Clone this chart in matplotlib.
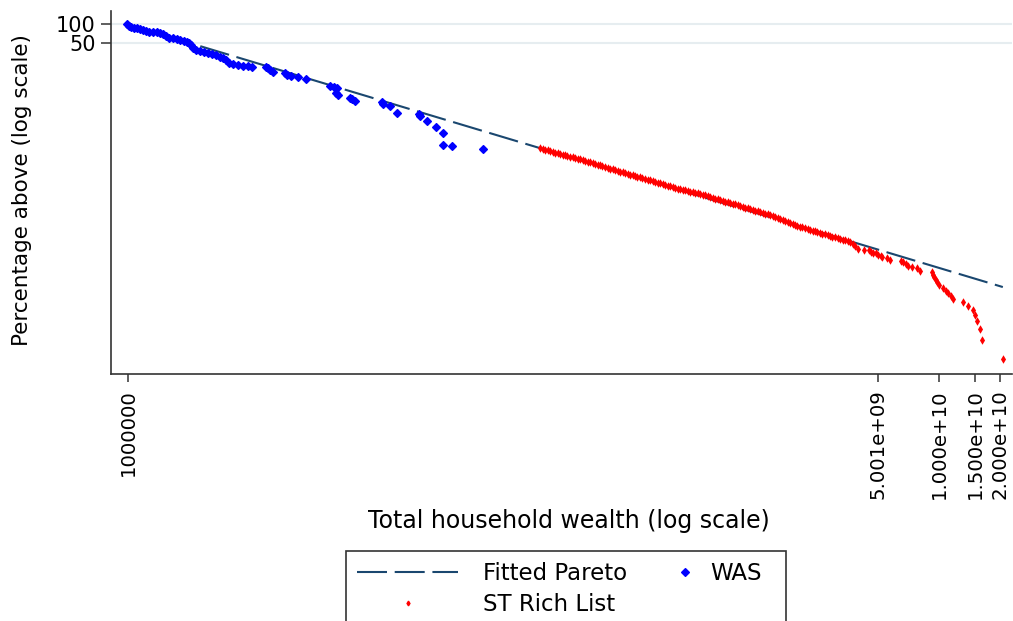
import matplotlib
matplotlib.use("Agg")
import matplotlib.pyplot as plt
from matplotlib.lines import Line2D
from matplotlib.patches import Rectangle
from matplotlib.ticker import NullLocator, FixedLocator, FixedFormatter

plt.rcParams['font.family'] = ['DejaVu Sans']

# ---------------- data ----------------
was_wealth = [0.989e6, 1.011e6, 1.035e6, 1.071e6, 1.108e6, 1.146e6, 1.186e6, 1.227e6, 1.269e6, 1.328e6,
              1.390e6, 1.438e6, 1.488e6, 1.539e6, 1.593e6, 1.667e6, 1.744e6, 1.805e6, 1.889e6, 1.954e6,
              2.000e6, 2.045e6, 2.092e6, 2.164e6, 2.265e6, 2.370e6, 2.480e6, 2.596e6, 2.716e6, 2.842e6,
              2.940e6, 3.042e6, 3.148e6, 3.295e6, 3.487e6, 3.691e6, 3.906e6, 4.088e6, 4.791e6, 4.901e6,
              5.013e6, 5.188e6, 5.945e6, 6.081e6, 6.364e6, 6.891e6, 7.545e6, 9.91e6, 1.037e7, 1.073e7,
              1.061e7, 1.085e7, 1.244e7, 1.272e7, 1.316e7, 1.789e7, 1.809e7, 1.958e7, 2.121e7, 2.722e7,
              2.754e7, 2.981e7, 3.303e7, 3.575e7, 3.575e7, 3.960e7, 5.63e7]
was_pct = [100, 94.6, 91.2, 87.9, 86.3, 83.2, 81.7, 78.7, 75.9, 75.9,
           74.5, 73.1, 70.5, 65.5, 61.9, 60.8, 58.6, 56.5, 54.5, 52.5,
           50.6, 47.0, 42.1, 39.1, 37.7, 36.3, 35.6, 33.7, 32.5, 30.2,
           29.1, 27.0, 24.2, 23.3, 22.9, 21.7, 21.3, 20.9, 20.9, 20.1,
           18.7, 17.4, 16.7, 15.6, 15.0, 14.5, 13.4, 10.4, 10.0, 9.64,
           8.02, 7.45, 6.67, 6.31, 5.97, 5.75, 5.35, 4.97, 3.84, 3.70,
           3.44, 2.86, 2.29, 1.84, 1.18, 1.14, 1.02]

st_wealth = [1.076e8, 1.138e8, 1.205e8, 1.275e8, 1.350e8, 1.428e8, 1.512e8, 1.600e8, 1.694e8, 1.793e8,
             1.897e8, 2.008e8, 2.125e8, 2.249e8, 2.381e8, 2.520e8, 2.667e8, 2.823e8, 2.988e8, 3.162e8,
             3.347e8, 3.543e8, 3.750e8, 3.969e8, 4.201e8, 4.446e8, 4.706e8, 4.981e8, 5.272e8, 5.580e8,
             5.906e8, 6.251e8, 6.616e8, 7.003e8, 7.412e8, 7.845e8, 8.303e8, 8.788e8, 9.301e8, 9.843e8,
             1.042e9, 1.103e9, 1.167e9, 1.235e9, 1.307e9, 1.384e9, 1.465e9, 1.550e9, 1.641e9, 1.737e9,
             1.838e9, 1.945e9, 2.059e9, 2.179e9, 2.307e9, 2.441e9, 2.584e9, 2.735e9, 2.894e9, 3.064e9,
             3.243e9, 3.432e9, 3.633e9, 3.845e9,
             3.992e9, 4.258e9, 4.522e9, 4.596e9, 4.733e9, 4.880e9, 5.009e9, 5.148e9, 5.206e9, 5.510e9,
             5.720e9, 6.479e9, 6.652e9, 6.859e9, 7.041e9, 7.318e9, 7.745e9, 8.041e9, 9.184e9, 9.290e9,
             9.428e9, 9.643e9, 9.786e9, 1.001e10, 1.047e10, 1.080e10, 1.109e10, 1.139e10, 1.174e10, 1.315e10,
             1.392e10, 1.463e10, 1.501e10, 1.530e10, 1.589e10, 1.620e10, 2.056e10]
st_pct = [1.045, 0.989, 0.943, 0.895, 0.850, 0.811, 0.770, 0.731, 0.692, 0.657,
          0.624, 0.590, 0.557, 0.525, 0.495, 0.466, 0.441, 0.419, 0.398, 0.377,
          0.358, 0.340, 0.322, 0.304, 0.288, 0.272, 0.258, 0.244, 0.231, 0.221,
          0.212, 0.203, 0.194, 0.184, 0.174, 0.164, 0.156, 0.147, 0.139, 0.132,
          0.125, 0.118, 0.110, 0.105, 0.0996, 0.0943, 0.0895, 0.0835, 0.0778, 0.0723,
          0.0674, 0.0631, 0.0586, 0.0551, 0.0515, 0.0488, 0.0461, 0.0437, 0.0413, 0.0392,
          0.0373, 0.0353, 0.0335, 0.0291,
          0.0256, 0.0247, 0.0247, 0.0232, 0.0223, 0.0218, 0.0205, 0.0198, 0.0188, 0.0182,
          0.0171, 0.0166, 0.0157, 0.0147, 0.0138, 0.0133, 0.0126, 0.0115, 0.0111, 0.00982,
          0.00902, 0.00817, 0.00750, 0.00679, 0.00601, 0.00551, 0.00500, 0.00453, 0.00406, 0.00367,
          0.00313, 0.00270, 0.00225, 0.00182, 0.00134, 0.000895, 0.000445]

# further ST Rich List households read inside the dense part of the red band
st_band_wealth = [1.107e8, 1.171e8, 1.240e8, 1.312e8, 1.389e8, 1.469e8, 1.556e8, 1.646e8, 1.743e8, 1.845e8,
                  1.952e8, 2.066e8, 2.186e8, 2.314e8, 2.450e8, 2.593e8, 2.744e8, 2.904e8, 3.074e8, 3.253e8,
                  3.443e8, 3.645e8, 3.858e8, 4.083e8, 4.322e8, 4.574e8, 4.841e8, 5.124e8, 5.424e8, 5.741e8,
                  6.076e8, 6.431e8, 6.806e8, 7.205e8, 7.625e8, 8.071e8, 8.542e8, 9.041e8, 9.569e8, 1.013e9,
                  1.072e9, 1.135e9, 1.201e9, 1.271e9, 1.345e9, 1.424e9, 1.507e9, 1.595e9, 1.688e9, 1.787e9,
                  1.891e9, 2.001e9, 2.118e9, 2.242e9, 2.373e9, 2.511e9, 2.658e9, 2.814e9, 2.977e9, 3.152e9,
                  3.336e9, 3.531e9, 3.738e9]
st_band_pct = [1.017, 0.966, 0.919, 0.872, 0.830, 0.790, 0.750, 0.711, 0.674, 0.640,
               0.607, 0.573, 0.541, 0.510, 0.480, 0.453, 0.430, 0.408, 0.387, 0.367,
               0.349, 0.331, 0.313, 0.296, 0.280, 0.265, 0.251, 0.237, 0.226, 0.216,
               0.207, 0.198, 0.189, 0.179, 0.169, 0.160, 0.151, 0.143, 0.135, 0.128,
               0.121, 0.114, 0.107, 0.102, 0.0969, 0.0919, 0.0864, 0.0806, 0.0750, 0.0698,
               0.0652, 0.0608, 0.0568, 0.0533, 0.0501, 0.0474, 0.0449, 0.0425, 0.0402, 0.0382,
               0.0363, 0.0344, 0.0312]

fit_wealth = [1.0e6, 2.06e10]
fit_pct = [100, 0.0063]

x_ticks = [1.0e6, 5.001e9, 1.0e10, 1.5e10, 2.0e10]
x_tick_labels = ["1000000", "5.001e+09", "1.000e+10", "1.500e+10", "2.000e+10"]
y_ticks = [100, 50]
y_tick_labels = ["100", "50"]

x_title = "Total household wealth (log scale)"
y_title = "Percentage above (log scale)"
legend_labels = ["Fitted Pareto", "WAS", "ST Rich List"]

# ---------------- styles ----------------
NAVY = '#1a476f'
W, H = 1013, 621
WAS_STYLE = dict(ls='none', marker='D', ms=3.8, mfc='#0000ff', mec='#0000ff', mew=0.9)
ST_STYLE = dict(ls='none', marker='d', ms=2.4, mfc='#ff0000', mec='#ff0000', mew=1.4)
DASH = (0, (14.4, 3.7))


def fx(px):
    return px / W


def fy(py):
    return 1 - py / H


fig = plt.figure(figsize=(W / 100, H / 100), dpi=100)
fig.patch.set_facecolor('white')
ax = fig.add_axes([fx(111), fy(374), (1012 - 111) / W, (374 - 11) / H])

ax.set_xscale('log')
ax.set_yscale('log')
ax.set_xlim(8.24e5, 2.286e10)
ax.set_ylim(2.56e-4, 164.4)

# grid lines at labelled y ticks
for yv in y_ticks:
    ax.axhline(yv, color='#e6edf0', lw=1.5, zorder=0)

ax.plot(fit_wealth, fit_pct, color=NAVY, lw=1.5, ls=DASH, zorder=2)
ax.plot(was_wealth, was_pct, zorder=3, **WAS_STYLE)
ax.plot(st_wealth + st_band_wealth, st_pct + st_band_pct, zorder=3, **ST_STYLE)

for s in ['top', 'right']:
    ax.spines[s].set_visible(False)
for s in ['left', 'bottom']:
    ax.spines[s].set_color('#333333')
    ax.spines[s].set_linewidth(1.2)

ax.xaxis.set_major_locator(FixedLocator(x_ticks))
ax.xaxis.set_major_formatter(FixedFormatter(x_tick_labels))
ax.xaxis.set_minor_locator(NullLocator())
ax.yaxis.set_major_locator(FixedLocator(y_ticks))
ax.yaxis.set_major_formatter(FixedFormatter(y_tick_labels))
ax.yaxis.set_minor_locator(NullLocator())

ax.tick_params(axis='x', direction='out', length=6, width=1.1, color='#333333',
               pad=5, labelsize=14.2, labelrotation=90)
ax.tick_params(axis='y', direction='out', length=7.5, width=1.1, color='#333333',
               pad=3.5, labelsize=15)
for lab in ax.get_xticklabels():
    lab.set_va('top')
    lab.set_ha('center')

# axis titles
fig.text(fx(568.5), fy(528.3), x_title, ha='center', va='baseline', fontsize=17)
fig.text(fx(22), fy(190), y_title, ha='center', va='center', rotation=90, fontsize=15.5)

# legend (boxed key, cut at the bottom of the figure as in the original)
fig.add_artist(Rectangle((fx(346), fy(650)), (786 - 346) / W, (650 - 550.7) / H,
                         transform=fig.transFigure, fill=False, ec='#333333', lw=1.2))
fig.add_artist(Line2D([fx(357), fx(458)], [fy(571.7), fy(571.7)], transform=fig.transFigure,
                      color=NAVY, lw=1.5, ls=DASH))
fig.add_artist(Line2D([fx(685)], [fy(571.7)], transform=fig.transFigure, **WAS_STYLE))
fig.add_artist(Line2D([fx(408)], [fy(603)], transform=fig.transFigure,
                      **dict(ST_STYLE, mew=1.0)))
fig.text(fx(483), fy(580), legend_labels[0], ha='left', va='baseline', fontsize=16.5)
fig.text(fx(710), fy(580), legend_labels[1], ha='left', va='baseline', fontsize=16.5)
fig.text(fx(483), fy(611), legend_labels[2], ha='left', va='baseline', fontsize=16.5)

fig.savefig('out.png', dpi=100, facecolor='white')
